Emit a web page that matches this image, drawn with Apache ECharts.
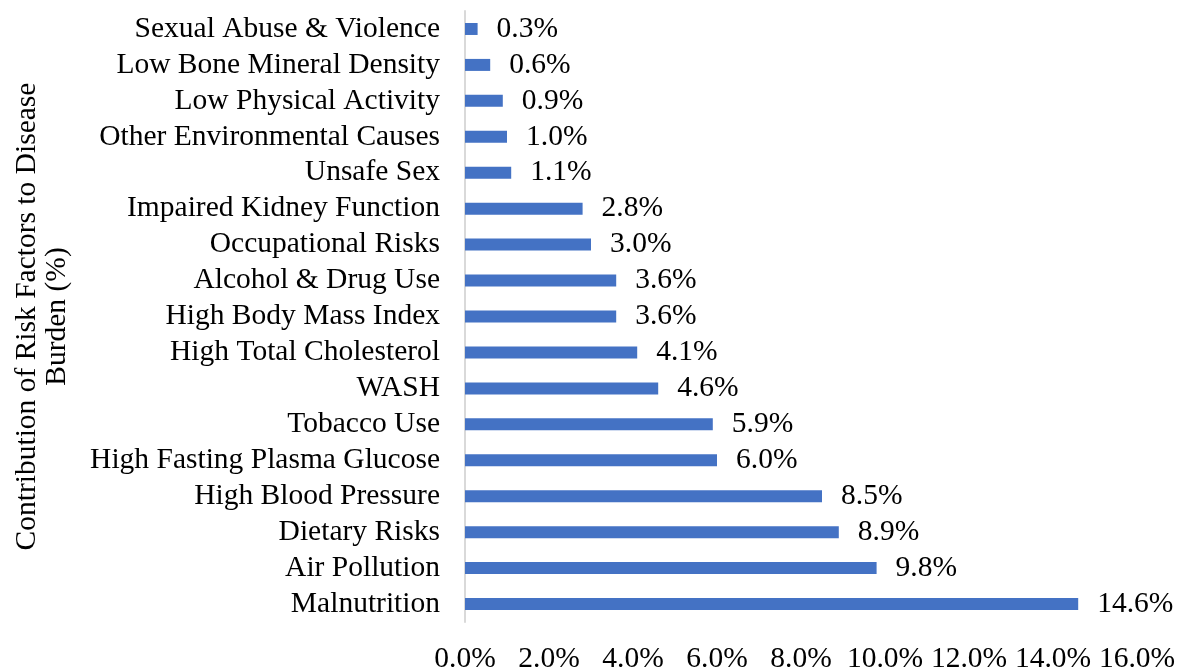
<!DOCTYPE html>
<html>
<head>
    <meta charset="UTF-8">
    <style type="text/css">
        html, body { margin: 0; padding: 0; background: #fff; }
        #chart { width: 1181px; height: 669px; }
    </style>
</head>
<body>
    <div id="chart"></div>
    <script src="https://cdn.jsdelivr.net/npm/echarts@6/dist/echarts.min.js"></script>
    <script type="text/javascript">
        'use strict';
        // bottom to top, as on the category axis
        var riskFactors = ['Malnutrition', 'Air Pollution', 'Dietary Risks', 'High Blood Pressure',
            'High Fasting Plasma Glucose', 'Tobacco Use', 'WASH', 'High Total Cholesterol',
            'High Body Mass Index', 'Alcohol & Drug Use', 'Occupational Risks',
            'Impaired Kidney Function', 'Unsafe Sex', 'Other Environmental Causes',
            'Low Physical Activity', 'Low Bone Mineral Density', 'Sexual Abuse & Violence'];
        var contribution = [14.6, 9.8, 8.9, 8.5, 6.0, 5.9, 4.6, 4.1, 3.6, 3.6, 3.0, 2.8, 1.1, 1.0, 0.9, 0.6, 0.3];
        var xTicks = [0, 2, 4, 6, 8, 10, 12, 14, 16];

        var font = 'Liberation Serif';
        var fs = 29.5;
        var chart = echarts.init(document.getElementById('chart'));
        chart.setOption({
            animation: false,
            textStyle: { fontFamily: font, color: '#000' },
            grid: { left: 465, right: 44, top: 11, bottom: 47, containLabel: false, outerBoundsMode: 'none' },
            xAxis: {
                type: 'value',
                min: xTicks[0],
                max: xTicks[xTicks.length - 1],
                interval: 2,
                axisLine: { show: false },
                axisTick: { show: false },
                splitLine: { show: false },
                axisLabel: {
                    margin: 22,
                    fontSize: fs,
                    fontFamily: font,
                    color: '#000',
                    formatter: function (v) { return v.toFixed(1) + '%'; }
                }
            },
            yAxis: {
                type: 'category',
                data: riskFactors,
                name: 'Contribution of Risk Factors to Disease\nBurden (%)',
                nameLocation: 'middle',
                nameGap: 393,
                nameTextStyle: { fontSize: fs, fontFamily: font, color: '#000', lineHeight: 30 },
                axisLine: { show: true, lineStyle: { color: '#d9d9d9', width: 2 } },
                axisTick: { show: false },
                axisLabel: { interval: 0, margin: 25, fontSize: fs, fontFamily: font, color: '#000' }
            },
            series: [{
                type: 'bar',
                data: contribution,
                barWidth: 12,
                itemStyle: { color: '#4472c4' },
                label: {
                    show: true,
                    position: 'right',
                    distance: 19,
                    fontSize: fs,
                    fontFamily: font,
                    color: '#000',
                    formatter: function (p) { return p.value.toFixed(1) + '%'; }
                }
            }]
        });
    </script>
</body>
</html>
